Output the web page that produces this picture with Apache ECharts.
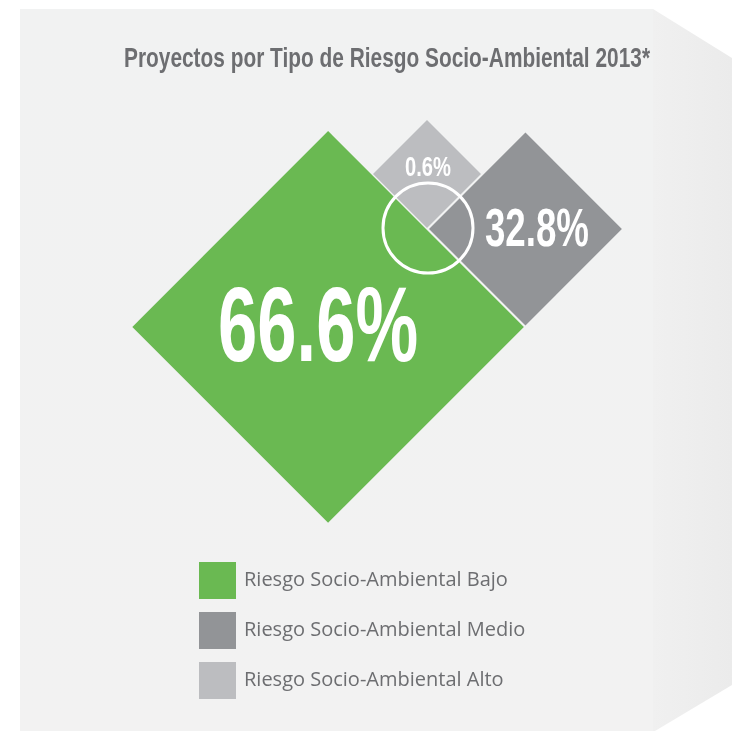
<!DOCTYPE html>
<html>
<head>
<meta charset="utf-8">
<script src="https://cdn.jsdelivr.net/npm/echarts@6/dist/echarts.min.js"></script>
<style>
  html, body {margin: 0; padding: 0; background: #fff;}
  #main {width: 732px; height: 731px;}
</style>
</head>
<body>
<div id="main"></div>
<script>
const categories = ['Riesgo Socio-Ambiental Bajo', 'Riesgo Socio-Ambiental Medio', 'Riesgo Socio-Ambiental Alto'];
const shares = [66.6, 32.8, 0.6];
const colors = ['#6ab952', '#929497', '#bcbdc0'];
const titleText = 'Proyectos por Tipo de Riesgo Socio-Ambiental 2013*';

const chartDom = document.getElementById('main');
const myChart = echarts.init(chartDom);

const boldFont = "'Liberation Sans', Arial, sans-serif";

// no hay fuente condensada instalada: se estrecha el texto con scaleX
const measureCtx = document.createElement('canvas').getContext('2d');
function squeeze(text, size, targetWidth) {
    measureCtx.font = 'bold ' + size + 'px ' + boldFont;
    return targetWidth / measureCtx.measureText(text).width;
}

// punto donde se tocan los tres rombos
const meet = [426, 229];
const pxPerPoint = 5.88;
const minDiag = 108;
const diag = shares.map(v => Math.max(v * pxPerPoint, minDiag));

const centers = [
    [meet[0] - diag[0] / 4, meet[1] + diag[0] / 4],
    [meet[0] + diag[1] / 2 + 3, meet[1]],
    [meet[0] + 1, meet[1] - diag[2] / 2 - 1]
];
const labelOffsets = [[-10, 5], [11.5, 2], [1, -5.5]];
const labelSizes = [106, 54, 28];
const labelWidths = [200, 104, 46];

function renderDiamond(i) {
    return function (params, api) {
        const c = api.coord([api.value(0), api.value(1)]);
        const h = diag[i] / 2;
        const label = shares[i].toFixed(1) + '%';
        return {
            type: 'group',
            children: [
                {
                    type: 'polygon',
                    shape: {points: [[c[0], c[1] - h], [c[0] + h, c[1]], [c[0], c[1] + h], [c[0] - h, c[1]]]},
                    style: {fill: api.visual('color')}
                },
                {
                    type: 'text',
                    x: c[0] + labelOffsets[i][0],
                    y: c[1] + labelOffsets[i][1],
                    scaleX: squeeze(label, labelSizes[i], labelWidths[i]),
                    style: {
                        text: label,
                        fill: '#fff',
                        font: 'bold ' + labelSizes[i] + 'px ' + boldFont,
                        align: 'center',
                        verticalAlign: 'middle'
                    }
                }
            ]
        };
    };
}

const option = {
    backgroundColor: '#fff',
    animation: false,
    graphic: [
        {
            type: 'polygon',
            z: -10,
            shape: {points: [[20, 9], [653, 9], [653, 731], [20, 731]]},
            style: {
                fill: new echarts.graphic.LinearGradient(0, 0, 0, 1, [
                    {offset: 0, color: '#f1f2f2'},
                    {offset: 1, color: '#f2f2f2'}
                ])
            }
        },
        {
            type: 'polygon',
            z: -10,
            shape: {points: [[653, 9], [732, 58], [732, 685], [655, 731], [653, 731]]},
            style: {
                fill: new echarts.graphic.LinearGradient(0, 0, 1, 0, [
                    {offset: 0, color: '#f0f0f0'},
                    {offset: 1, color: '#ebebeb'}
                ])
            }
        },
        {
            type: 'text',
            x: 124,
            y: 59,
            scaleX: squeeze(titleText, 28, 526),
            style: {
                text: titleText,
                fill: '#6d6e71',
                font: 'bold 28px ' + boldFont,
                align: 'left',
                verticalAlign: 'middle'
            }
        },
        {
            type: 'circle',
            z: 100,
            shape: {cx: meet[0] + 2, cy: meet[1] - 1, r: 45},
            style: {fill: 'none', stroke: '#fff', lineWidth: 3}
        }
    ],
    legend: {
        data: categories,
        orient: 'vertical',
        left: 199,
        top: 562,
        padding: 0,
        itemWidth: 37,
        itemHeight: 37,
        itemGap: 13,
        icon: 'rect',
        itemStyle: {borderWidth: 0},
        textStyle: {
            fontFamily: "'Open Sans', sans-serif",
            fontSize: 20,
            color: '#6d6e71',
            padding: [0, 0, 0, 3]
        }
    },
    grid: {left: 0, right: 0, top: 0, bottom: 0},
    xAxis: {type: 'value', min: 0, max: 732, show: false},
    yAxis: {type: 'value', min: 0, max: 731, inverse: true, show: false},
    series: categories.map((name, i) => ({
        name: name,
        type: 'custom',
        z: 2 + i,
        itemStyle: {color: colors[i]},
        renderItem: renderDiamond(i),
        emphasis: {disabled: true},
        data: [[centers[i][0], centers[i][1], shares[i]]]
    }))
};

option && myChart.setOption(option);
</script>
</body>
</html>
